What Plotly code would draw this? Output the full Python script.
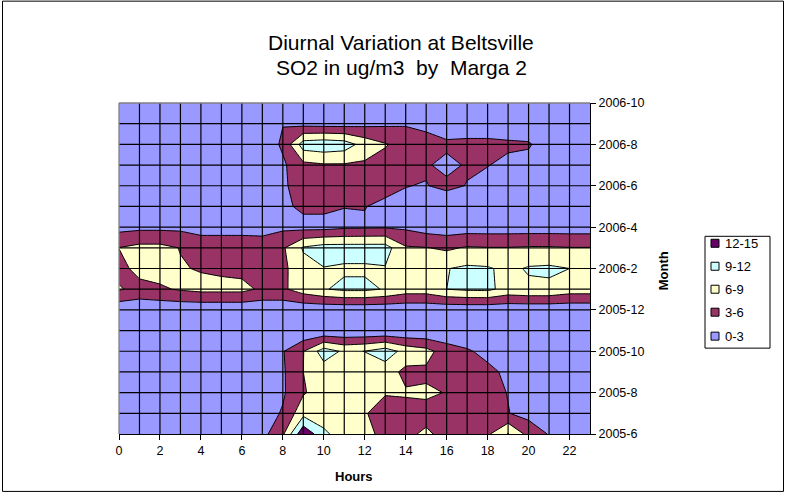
import plotly.graph_objects as go

# ---------------- data ----------------
hours = list(range(24))
hour_ticks = list(range(0, 24, 2))
months = ['2005-6', '2005-7', '2005-8', '2005-9', '2005-10', '2005-11', '2005-12',
          '2006-1', '2006-2', '2006-3', '2006-4', '2006-5', '2006-6', '2006-7',
          '2006-8', '2006-9', '2006-10']
month_pos = list(range(len(months)))
tick_pos = month_pos[::2]
tick_months = months[::2]

levels = ['0-3', '3-6', '6-9', '9-12', '12-15']
level_colors = ['#9999FF', '#993366', '#FFFFCC', '#CCFFFF', '#660066']

# SO2 (ug/m3) per hour 0..23, one row per month
so2_2005_06 = [1.0, 1.0, 1.0, 1.0, 1.0, 1.0, 1.0, 2.0, 5.5, 14.5, 9.8, 7.0, 6.8, 5.2, 5.5, 6.4, 5.2, 5.0, 5.5, 9.2, 5.0, 2.8, 1.5, 1.0]
so2_2005_07 = [1.0, 1.0, 1.0, 1.0, 1.0, 1.0, 1.0, 1.5, 3.3, 8.0, 7.0, 6.8, 6.2, 4.8, 5.0, 5.2, 5.0, 4.8, 4.6, 3.1, 2.0, 1.0, 1.0, 1.0]
so2_2005_08 = [1.0, 1.0, 1.0, 1.0, 1.0, 1.0, 1.0, 1.0, 2.6, 5.7, 7.5, 7.5, 6.3, 6.2, 6.3, 6.4, 5.9, 4.5, 4.0, 2.9, 1.0, 1.0, 1.0, 1.0]
so2_2005_09 = [1.0, 1.0, 1.0, 1.0, 1.0, 1.0, 1.0, 1.0, 2.6, 6.0, 7.5, 8.0, 7.5, 7.5, 5.2, 5.5, 4.5, 4.0, 3.6, 2.5, 1.0, 1.0, 1.0, 1.0]
so2_2005_10 = [1.0, 1.0, 1.0, 1.0, 1.0, 1.0, 1.0, 1.0, 2.8, 5.9, 10.5, 8.5, 9.05, 10.5, 8.0, 7.0, 4.5, 3.3, 2.3, 1.0, 1.0, 1.0, 1.0, 1.0]
so2_2005_11 = [1.0, 1.0, 1.0, 1.0, 1.0, 1.0, 1.0, 1.0, 1.0, 0.3, 0.3, 0.3, 0.3, 0.3, 0.3, 0.3, 0.5, 1.0, 1.0, 1.0, 1.0, 1.0, 1.0, 1.0]
so2_2005_12 = [0.8, 0.8, 0.8, 0.8, 0.8, 0.8, 0.8, 0.8, 0.8, 0.8, 0.8, 0.8, 0.8, 0.8, 0.8, 0.8, 0.8, 0.8, 0.8, 0.8, 0.8, 0.8, 0.8, 0.8]
so2_2006_01 = [6.3, 5.0, 5.6, 6.3, 6.8, 6.8, 6.8, 5.5, 5.5, 7.5, 8.8, 9.6, 9.6, 8.8, 7.5, 7.5, 9.0, 9.5, 9.6, 8.0, 8.4, 8.4, 7.5, 7.5]
so2_2006_02 = [5.0, 7.0, 7.2, 6.2, 5.8, 5.5, 5.2, 4.5, 5.3, 8.0, 8.9, 8.6, 8.6, 8.8, 7.0, 7.2, 8.9, 9.5, 9.3, 8.3, 9.3, 9.5, 9.0, 7.5]
so2_2006_03 = [6.05, 6.8, 6.8, 5.9, 4.5, 4.5, 4.5, 4.3, 5.6, 9.3, 10.3, 10.3, 10.3, 10.3, 6.3, 6.1, 5.5, 6.3, 6.1, 6.1, 6.3, 6.3, 6.1, 6.1]
so2_2006_04 = [2.0, 2.3, 2.3, 2.3, 2.0, 2.0, 2.0, 2.0, 2.4, 2.0, 2.0, 2.5, 2.6, 2.7, 2.5, 1.6, 1.3, 1.5, 1.5, 1.5, 1.5, 1.5, 1.5, 1.5]
so2_2006_05 = [1.5, 1.5, 1.5, 1.5, 1.5, 1.5, 1.5, 1.5, 2.4, 3.6, 3.6, 3.05, 3.1, 2.3, 2.5, 2.0, 1.0, 1.5, 1.5, 1.5, 1.5, 1.5, 1.5, 1.5]
so2_2006_06 = [1.0, 1.0, 1.0, 1.0, 1.0, 1.0, 1.0, 1.0, 2.5, 4.5, 5.0, 5.0, 4.5, 4.0, 3.05, 2.9, 3.65, 2.9, 2.0, 1.5, 1.0, 1.0, 1.0, 1.0]
so2_2006_07 = [1.0, 1.0, 1.0, 1.0, 1.0, 1.0, 1.0, 1.5, 2.5, 5.2, 5.7, 5.7, 5.5, 5.0, 4.5, 3.3, 2.2, 3.3, 3.1, 2.3, 2.0, 1.5, 1.0, 1.0]
so2_2006_08 = [1.0, 1.0, 1.0, 1.0, 1.0, 1.0, 1.0, 1.0, 3.5, 10.5, 11.0, 10.5, 7.8, 6.2, 5.0, 4.5, 3.6, 3.8, 3.8, 3.5, 3.3, 1.5, 1.0, 1.0]
so2_2006_09 = [0.8, 0.8, 0.8, 0.8, 0.8, 0.8, 0.8, 0.8, 2.9, 2.0, 1.8, 1.8, 2.2, 2.5, 2.7, 2.0, 1.0, 1.0, 1.0, 1.0, 1.0, 0.8, 0.8, 0.8]
so2_2006_10 = [0.8, 0.8, 0.8, 0.8, 0.8, 0.8, 0.8, 0.8, 0.8, 0.8, 0.8, 0.8, 0.8, 0.8, 0.8, 0.8, 0.8, 0.8, 0.8, 0.8, 0.8, 0.8, 0.8, 0.8]

z_rows = [so2_2005_06, so2_2005_07, so2_2005_08, so2_2005_09, so2_2005_10, so2_2005_11,
          so2_2005_12, so2_2006_01, so2_2006_02, so2_2006_03, so2_2006_04, so2_2006_05,
          so2_2006_06, so2_2006_07, so2_2006_08, so2_2006_09, so2_2006_10]

# ---------------- layout helpers ----------------
W, H = 786, 497
ML, MR, MT, MB = 119, 196, 102.5, 63
PW, PH = W - ML - MR, H - MT - MB


def px(x):
    return (x - ML) / PW


def py(y):
    return (H - MB - y) / PH


FONT = 'Arial, Liberation Sans, sans-serif'

# stepped colour scale (one flat colour per 3-unit band)
bounds = [0, 0.21, 0.38, 0.545, 0.73, 1.0]
colorscale = []
for i, c in enumerate(level_colors):
    colorscale.append([bounds[i], c])
    colorscale.append([bounds[i + 1], c])

fig = go.Figure()
fig.add_trace(go.Contour(
    x=hours, y=month_pos, z=z_rows,
    zmin=0, zmax=15,
    colorscale=colorscale,
    contours=dict(start=0, end=15, size=3, coloring='fill', showlines=True),
    line=dict(color='black', width=1, smoothing=0),
    showscale=False, hoverinfo='skip',
))

shapes = []
# grid lines on top of the filled contours
for h in hours[1:-1]:
    shapes.append(dict(type='line', xref='x', yref='y', x0=h, x1=h,
                       y0=month_pos[0], y1=month_pos[-1], layer='above',
                       line=dict(color='black', width=1.2)))
for m in month_pos[1:-1]:
    shapes.append(dict(type='line', xref='x', yref='y', x0=hours[0], x1=hours[-1],
                       y0=m, y1=m, layer='above',
                       line=dict(color='black', width=1.2)))
# grey plot-area border (left & top)
shapes.append(dict(type='line', xref='paper', yref='paper', x0=0, x1=0, y0=0, y1=1,
                   layer='above', line=dict(color='#808080', width=1.3)))
shapes.append(dict(type='line', xref='paper', yref='paper', x0=0, x1=1, y0=1, y1=1,
                   layer='above', line=dict(color='#808080', width=1.3)))
# chart-area border
shapes.append(dict(type='rect', xref='paper', yref='paper',
                   x0=px(2.5), x1=px(783.5), y0=py(491.5), y1=py(0.5),
                   line=dict(color='black', width=1), layer='below'))

# legend (manual, Excel style)
LX0, LY0, LX1, LY1 = 705, 236, 770, 348
shapes.append(dict(type='rect', xref='paper', yref='paper',
                   x0=px(LX0), x1=px(LX1), y0=py(LY1), y1=py(LY0),
                   line=dict(color='black', width=1), fillcolor='white', layer='above'))
annotations = []
item_y = [243, 266, 289, 312, 336]
for k, (lab, col) in enumerate(zip(levels[::-1], level_colors[::-1])):
    yc = item_y[k]
    shapes.append(dict(type='rect', xref='paper', yref='paper',
                       x0=px(711), x1=px(719), y0=py(yc + 4), y1=py(yc - 4),
                       fillcolor=col, line=dict(color='black', width=1), layer='above'))
    annotations.append(dict(x=px(723), y=py(yc), xref='paper', yref='paper',
                            text=lab, showarrow=False, xanchor='left', yanchor='middle',
                            font=dict(family=FONT, size=13, color='black')))

# titles
annotations.append(dict(x=px(401), y=py(42), xref='paper', yref='paper',
                        text='Diurnal Variation at Beltsville', showarrow=False,
                        xanchor='center', yanchor='middle',
                        font=dict(family=FONT, size=21, color='black')))
annotations.append(dict(x=px(401), y=py(67), xref='paper', yref='paper',
                        text='SO2 in ug/m3\u00a0 by\u00a0 Marga 2', showarrow=False,
                        xanchor='center', yanchor='middle',
                        font=dict(family=FONT, size=21, color='black')))
annotations.append(dict(x=px(354), y=py(477), xref='paper', yref='paper',
                        text='<b>Hours</b>', showarrow=False,
                        xanchor='center', yanchor='middle',
                        font=dict(family=FONT, size=13, color='black')))
annotations.append(dict(x=px(663), y=py(271), xref='paper', yref='paper',
                        text='<b>Month</b>', showarrow=False, textangle=-90,
                        xanchor='center', yanchor='middle',
                        font=dict(family=FONT, size=13, color='black')))

fig.update_layout(
    width=W, height=H,
    margin=dict(l=ML, r=MR, t=MT, b=MB, pad=0),
    paper_bgcolor='white', plot_bgcolor='white',
    showlegend=False,
    shapes=shapes, annotations=annotations,
    xaxis=dict(range=[hours[0], hours[-1]], tickvals=hour_ticks,
               ticktext=[str(h) for h in hour_ticks],
               ticks='outside', ticklen=5, tickcolor='black', tickwidth=1,
               showline=True, linecolor='black', linewidth=1,
               showgrid=False, zeroline=False,
               tickfont=dict(family=FONT, size=12.5, color='black')),
    yaxis=dict(range=[month_pos[0], month_pos[-1]], side='right',
               tickvals=tick_pos, ticktext=tick_months,
               ticks='outside', ticklen=5, tickcolor='black', tickwidth=1,
               showline=True, linecolor='black', linewidth=1,
               showgrid=False, zeroline=False,
               tickfont=dict(family=FONT, size=12.5, color='black')),
)

fig.write_html('out.html')
